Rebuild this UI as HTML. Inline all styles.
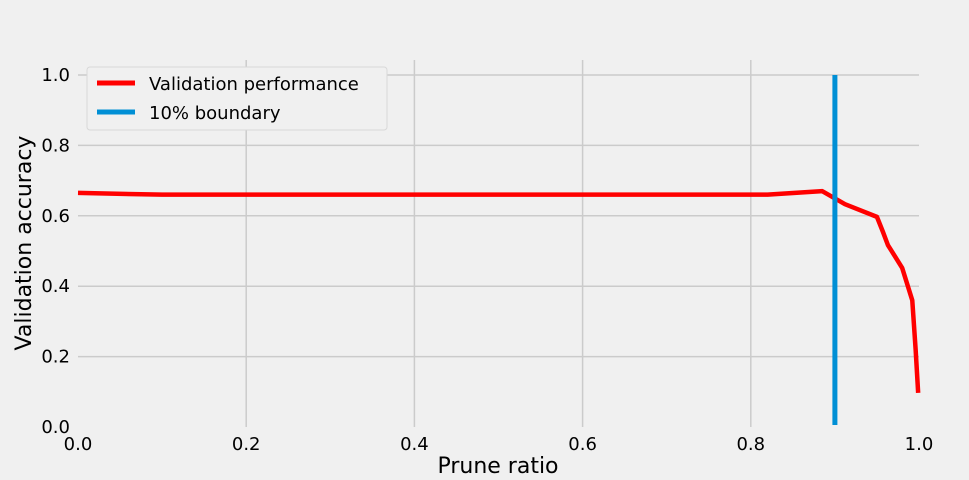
<!DOCTYPE html>
<html><head><meta charset="utf-8"><style>
body{margin:0;background:#f0f0f0;}
svg{display:block;font-family:"DejaVu Sans","Liberation Sans",sans-serif;}
</style></head><body>
<svg id="chart" width="969" height="480">
<rect width="969" height="480" fill="#f0f0f0"/>
<g id="grid"></g><g id="marks"></g><g id="ticks"></g>
<text x="498" y="473" text-anchor="middle" font-size="22" fill="#000">Prune ratio</text>
<text transform="translate(31,243) rotate(-90)" text-anchor="middle" font-size="22" fill="#000">Validation accuracy</text>
<g>
<rect x="87" y="67" width="300" height="63" rx="3" fill="#f0f0f0" stroke="#d8d8d8"/>
<line x1="97" y1="83" x2="135" y2="83" stroke="#ff0000" stroke-width="5"/>
<text x="149" y="90" font-size="18">Validation performance</text>
<line x1="97" y1="112" x2="135" y2="112" stroke="#008fd5" stroke-width="5"/>
<text x="149" y="119" font-size="18">10% boundary</text>
</g>
</svg>
<script>
const pruneRatio=[0,0.1,0.2,0.4,0.6,0.82,0.885,0.912,0.95,0.957,0.963,0.98,0.992,0.996,0.999];
const accuracy=[0.665,0.66,0.66,0.66,0.66,0.66,0.67,0.633,0.597,0.555,0.517,0.452,0.36,0.22,0.097];
const boundaryX=[0.9];
const xTicks=[0,0.2,0.4,0.6,0.8,1.0];
const yTicks=[0,0.2,0.4,0.6,0.8,1.0];
const NS="http://www.w3.org/2000/svg";
const X0=78,X1=919,Y0=427,YTOP=57;
const xs=v=>X0+v*(X1-X0);
const ys=v=>Y0-v*352;
function mk(tag,attrs,parent){const e=document.createElementNS(NS,tag);for(const k in attrs)e.setAttribute(k,attrs[k]);document.getElementById(parent).appendChild(e);return e;}
xTicks.forEach(t=>{
  if(t>0&&t<1){const l=mk('line',{x1:xs(t),x2:xs(t),y1:YTOP+3,y2:Y0,stroke:'#cbcbcb','stroke-width':1.5},'grid');
  
  }
  const tx=mk('text',{x:xs(t),y:450,'text-anchor':'middle','font-size':18},'ticks');tx.textContent=t.toFixed(1);
  
  
});
yTicks.forEach(t=>{
  if(t>0){const l=mk('line',{x1:X0,x2:X1,y1:ys(t),y2:ys(t),stroke:'#cbcbcb','stroke-width':1.5},'grid');
  
  }
  const tx=mk('text',{x:70,y:ys(t)+6,'text-anchor':'end','font-size':18},'ticks');tx.textContent=t.toFixed(1);
  
  
});
const d=pruneRatio.map((v,i)=>(i?'L':'M')+xs(v)+','+ys(accuracy[i])).join('');
const p=mk('path',{d:d,fill:'none',stroke:'#ff0000','stroke-width':4.5,'stroke-linejoin':'round'},'marks');


boundaryX.forEach(b=>{
  const l=mk('line',{x1:xs(b),x2:xs(b),y1:ys(1.0),y2:Y0-2,stroke:'#008fd5','stroke-width':5},'marks');
  
  
});
</script>
</body></html>
